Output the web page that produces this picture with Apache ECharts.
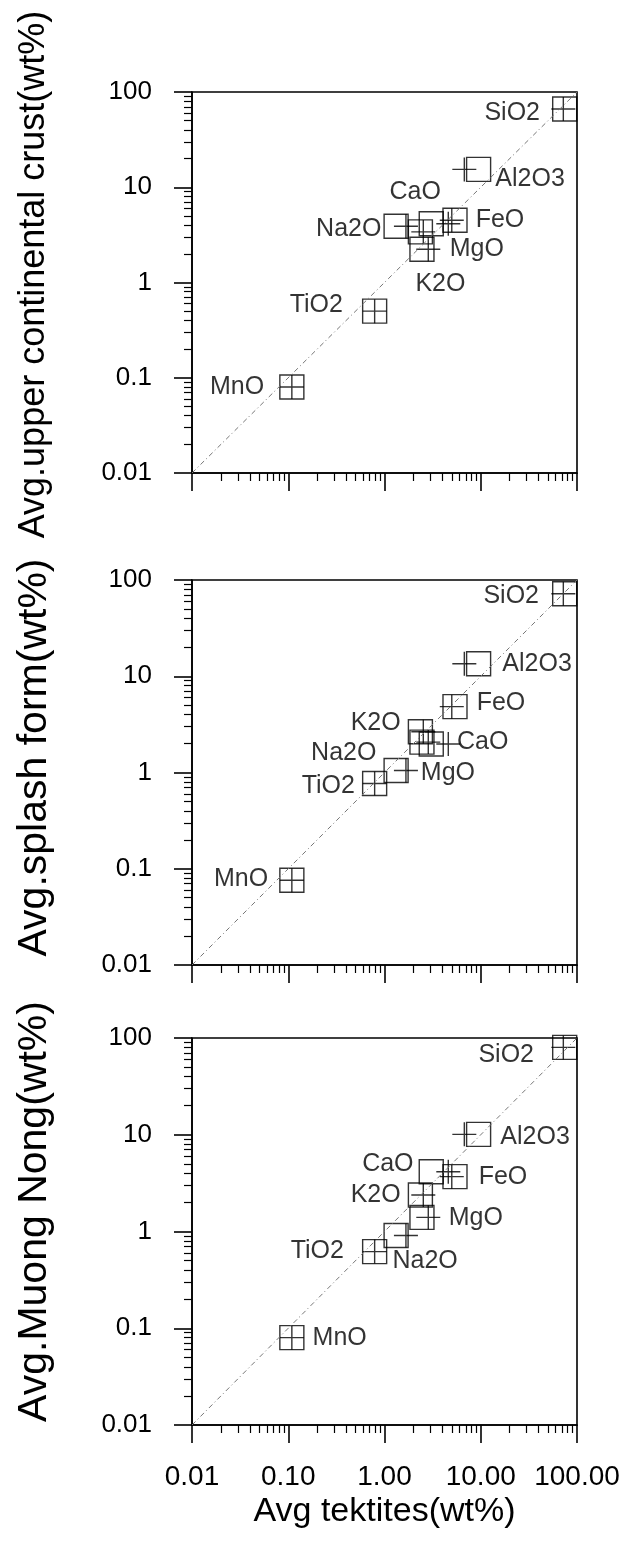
<!DOCTYPE html>
<html>
<head>
<meta charset="utf-8">
<script src="https://cdn.jsdelivr.net/npm/echarts@6/dist/echarts.min.js"></script>
<style>
  html, body { margin: 0; padding: 0; background: #fff; }
  #chart { width: 627px; height: 1542px; }
</style>
</head>
<body>
<div id="chart"></div>
<script>
/*-----------------------data-----------------------------*/
var oxides = ["SiO2", "Al2O3", "FeO", "CaO", "Na2O", "MgO", "K2O", "TiO2", "MnO"];
// avg tektites (x), square marks and plus marks
var tektiteSquare = [74.5, 9.5, 5.4, 3.06, 1.32, 2.45, 2.36, 0.79, 0.109];
var tektiteCross = [72.1, 6.75, 5.0, 4.6, 1.67, 2.85, 2.53, 0.79, 0.109];
// y of each panel
var upperCrust = [66.3, 15.4, 4.5, 4.14, 3.9, 2.23, 3.4, 0.5, 0.08];
var splashForm = [72, 13.5, 4.83, 1.98, 1.05, 2.07, 2.65, 0.77, 0.076];
var muongNong = [80, 10.1, 3.69, 4.15, 0.91, 1.4, 2.38, 0.62, 0.08];
// 1:1 line
var oneToOne = [0.01, 100];
// tick labels
var yTickLabels = ["0.01", "0.1", "1", "10", "100"];
var xTickLabels = ["0.01", "0.10", "1.00", "10.00", "100.00"];

/*-----------------------style-----------------------------*/
var FONT = "Liberation Sans, Arial, sans-serif";
// minor ticks (2..9 of each decade), drawn on a hidden linear axis in log units
var minorTicks = [];
for (var d = -2; d < 2; d++) {
  for (var k = 2; k <= 9; k++) {
    minorTicks.push(d + Math.log10(k));
  }
}

// label placement: [position, distance, dx, dy]
var panels = [
  {
    top: 92, height: 381, title: "Avg.upper continental crust(wt%)", titleSize: 36, titleGap: 140, titleUp: 16,
    ys: upperCrust,
    labels: {
      SiO2: ["left", 12, 0, 4], Al2O3: ["right", 4, 0, 10], FeO: ["right", 8, 0, 0],
      CaO: ["top", 6, -16, 0], Na2O: ["left", 2, 0, 3], MgO: ["right", 15, 0, 0],
      K2O: ["bottom", 27, 20, 0], TiO2: ["left", 19, 0, -6], MnO: ["left", 15, 0, 0]
    }
  },
  {
    top: 580, height: 385, title: "Avg.splash form(wt%)", titleSize: 41, titleGap: 137, titleUp: 30,
    ys: splashForm,
    labels: {
      SiO2: ["left", 13, 0, 2], Al2O3: ["right", 11, 0, 0], FeO: ["right", 9, 0, -4],
      CaO: ["right", 13, 0, -2], Na2O: ["left", 7, 0, -17], MgO: ["bottom", 6, 26, 0],
      K2O: ["left", 7, 0, -9], TiO2: ["left", 7, 0, 3], MnO: ["left", 11, 0, -1]
    }
  },
  {
    top: 1038, height: 387, title: "Avg.Muong Nong(wt%)", titleSize: 41, titleGap: 137, titleUp: 40,
    ys: muongNong,
    labels: {
      SiO2: ["left", 18, 0, 8], Al2O3: ["right", 9, 0, 3], FeO: ["right", 11, 0, 0],
      CaO: ["left", 5, 0, -8], Na2O: ["bottom", 0, 29, 0], MgO: ["right", 14, 0, 1],
      K2O: ["left", 7, 0, 0], TiO2: ["left", 18, 0, 0], MnO: ["right", 8, 0, 0]
    }
  }
];

function tickIndex(v) {
  return Math.round(Math.log10(v)) + 2;
}

var grids = [], xAxes = [], yAxes = [], series = [];
var black = { color: "#000", width: 1.6 };

for (var i = 0; i < panels.length; i++) {
  var p = panels[i];
  grids.push({
    left: 192, top: p.top, width: 385, height: p.height,
    show: true, borderColor: "#000", borderWidth: 1.6, backgroundColor: "transparent"
  });
  var last = i == panels.length - 1;
  // main log axes
  xAxes.push({
    type: "log", logBase: 10, gridIndex: i, min: 0.01, max: 100, position: "bottom",
    axisLine: { show: true, onZero: false, lineStyle: black },
    axisTick: { show: true, length: 18, lineStyle: black },
    axisLabel: {
      show: last, margin: 38, fontSize: 28, color: "#000", fontFamily: FONT,
      formatter: function (v) { return xTickLabels[tickIndex(v)]; }
    },
    splitLine: { show: false },
    name: last ? "Avg tektites(wt%)" : "",
    nameLocation: "middle", nameGap: 70,
    nameTextStyle: { fontSize: 34, color: "#000", fontFamily: FONT }
  });
  // minor ticks
  xAxes.push({
    type: "value", gridIndex: i, min: -2, max: 2, position: "bottom",
    axisLine: { show: false, onZero: false },
    axisTick: { show: true, length: 8, customValues: minorTicks, lineStyle: { color: "#000", width: 1.2 } },
    axisLabel: { show: false },
    splitLine: { show: false }
  });
  yAxes.push({
    type: "log", logBase: 10, gridIndex: i, min: 0.01, max: 100, position: "left",
    axisLine: { show: true, onZero: false, lineStyle: black },
    axisTick: { show: true, length: 18, lineStyle: black },
    axisLabel: {
      margin: 40, fontSize: 26, color: "#000", fontFamily: FONT,
      formatter: function (v) { return yTickLabels[tickIndex(v)]; }
    },
    splitLine: { show: false },
    name: p.title, nameLocation: "middle", nameGap: p.titleGap,
    nameTextStyle: {
      fontSize: p.titleSize, color: "#000", fontFamily: FONT,
      padding: [0, 0, 0, p.titleUp]
    }
  });
  yAxes.push({
    type: "value", gridIndex: i, min: -2, max: 2, position: "left",
    axisLine: { show: false, onZero: false },
    axisTick: { show: true, length: 8, customValues: minorTicks, lineStyle: { color: "#000", width: 1.2 } },
    axisLabel: { show: false },
    splitLine: { show: false }
  });

  // 1:1 line
  series.push({
    type: "line", xAxisIndex: 2 * i, yAxisIndex: 2 * i, silent: true,
    symbol: "none",
    data: [[oneToOne[0], oneToOne[0]], [oneToOne[1], oneToOne[1]]],
    lineStyle: { color: "#777", width: 1, type: [5, 3, 1, 3] }
  });

  var squares = [], crosses = [];
  for (var j = 0; j < oxides.length; j++) {
    var lp = p.labels[oxides[j]];
    squares.push({
      name: oxides[j],
      value: [tektiteSquare[j], p.ys[j]],
      label: {
        show: true, position: lp[0], distance: lp[1], offset: [lp[2], lp[3]],
        formatter: "{b}", fontSize: 25, color: "#000", fontFamily: FONT
      }
    });
    crosses.push([tektiteCross[j], p.ys[j]]);
  }
  series.push({
    type: "scatter", xAxisIndex: 2 * i, yAxisIndex: 2 * i, silent: true,
    symbol: "rect", symbolSize: 24, data: squares,
    itemStyle: { color: "rgba(0,0,0,0)", borderColor: "#000", borderWidth: 1.4 }
  });
  series.push({
    type: "scatter", xAxisIndex: 2 * i, yAxisIndex: 2 * i, silent: true,
    symbol: "path://M0,50L100,50M50,0L50,100", symbolSize: 24, data: crosses,
    itemStyle: { color: "none", borderColor: "#000", borderWidth: 1.4 }
  });
}

var myChart = echarts.init(document.getElementById("chart"));
var option = {
  animation: false,
  backgroundColor: "#fff",
  grid: grids,
  xAxis: xAxes,
  yAxis: yAxes,
  series: series
};
myChart.setOption(option);
</script>
</body>
</html>
